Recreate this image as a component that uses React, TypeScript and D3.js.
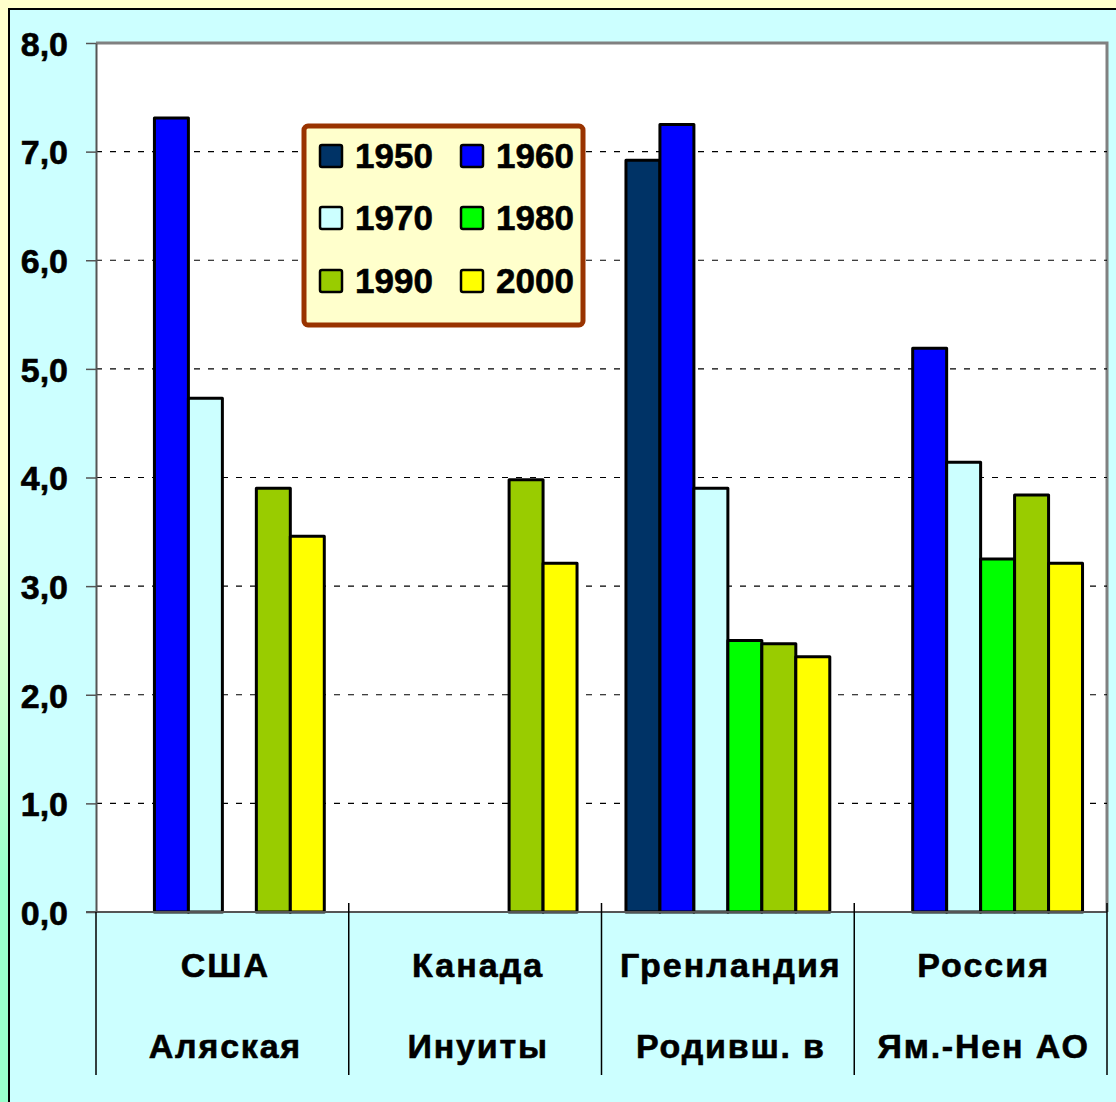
import * as d3 from "d3";
import React, { useRef, useEffect } from "react";

const regionTop = ["США", "Канада", "Гренландия", "Россия"];
const regionBottom = ["Аляская", "Инуиты", "Родивш. в", "Ям.-Нен АО"];
const years = ["1950", "1960", "1970", "1980", "1990", "2000"];
const yearColors = ["#003366", "#0000FF", "#CCFFFF", "#00FF00", "#99CC00", "#FFFF00"];

// values per year, one per region (null = no bar)
const v1950 = [null, null, 6.92, null];
const v1960 = [7.31, null, 7.25, 5.19];
const v1970 = [4.73, null, 3.9, 4.14];
const v1980 = [null, null, 2.5, 3.25];
const v1990 = [3.9, 3.98, 2.47, 3.84];
const v2000 = [3.46, 3.21, 2.35, 3.21];
const yTicks = [0, 1, 2, 3, 4, 5, 6, 7, 8];

const W = 1116;
const H = 1102;
const FONT = "'Liberation Sans', Arial, sans-serif";

function App() {
    const ref = useRef(null);

    useEffect(() => {
        document.body.style.margin = "0";
        draw();
    }, []);

    const draw = () => {
        const svg = d3.select(ref.current).attr("width", W).attr("height", H);
        svg.selectAll("*").remove();

        const series = [v1950, v1960, v1970, v1980, v1990, v2000];
        const left = 96, right = 1107, top = 43, bottom = 912;

        const defs = svg.append("defs");
        const grad = defs.append("linearGradient").attr("id", "bg").attr("x1", 0).attr("y1", 0).attr("x2", 0).attr("y2", 1);
        grad.append("stop").attr("offset", "0%").attr("stop-color", "#FFFFCC");
        grad.append("stop").attr("offset", "45%").attr("stop-color", "#FFFFCC");
        grad.append("stop").attr("offset", "80%").attr("stop-color", "#99FFCC");
        grad.append("stop").attr("offset", "100%").attr("stop-color", "#99FFCC");

        svg.append("rect").attr("width", W).attr("height", H).attr("fill", "url(#bg)");
        svg.append("rect")
            .attr("x", 9).attr("y", 9).attr("width", W + 20).attr("height", H + 20)
            .attr("fill", "#CCFFFF").attr("stroke", "#000").attr("stroke-width", 2);

        const x0 = d3.scaleBand().domain(regionTop).range([left, right]);
        const x1 = d3.scaleBand().domain(years).range([0, x0.bandwidth()]).paddingInner(0).paddingOuter(0.72);
        const y = d3.scaleLinear().domain([0, 8]).range([bottom, top]);

        // plot area
        svg.append("rect")
            .attr("x", left).attr("y", top).attr("width", right - left).attr("height", bottom - top)
            .attr("fill", "#fff");
        svg.append("path")
            .attr("d", `M${left},${top}H${right}V${bottom}`)
            .attr("fill", "none").attr("stroke", "#808080").attr("stroke-width", 3);

        // gridlines
        svg.append("g")
            .selectAll("line")
            .data(yTicks.filter((d) => d > 0 && d < 8))
            .join("line")
            .attr("x1", left).attr("x2", right)
            .attr("y1", (d) => y(d)).attr("y2", (d) => y(d))
            .attr("stroke", "#000").attr("stroke-width", 1.2)
            .attr("stroke-dasharray", "6,8");

        // bars
        const g = svg.append("g");
        series.forEach((vals, si) => {
            g.selectAll(null)
                .data(vals.map((v, ci) => ({ v, ci })).filter((d) => d.v != null))
                .join("rect")
                .attr("x", (d) => x0(regionTop[d.ci]) + x1(years[si]))
                .attr("y", (d) => y(d.v))
                .attr("width", x1.bandwidth())
                .attr("height", (d) => y(0) - y(d.v))
                .attr("fill", yearColors[si])
                .attr("stroke", "#000")
                .attr("stroke-width", 3)
                .attr("stroke-linejoin", "round");
        });

        // y axis
        const yAxis = d3.axisLeft(y).tickValues(yTicks).tickSize(10).tickSizeOuter(0)
            .tickFormat((d) => d3.format(".1f")(d).replace(".", ","));
        const ya = svg.append("g").attr("transform", `translate(${left},0)`).call(yAxis);
        ya.select(".domain").attr("stroke", "#555").attr("stroke-width", 2);
        ya.selectAll(".tick line").attr("stroke", "#555").attr("stroke-width", 1.5);
        ya.selectAll(".tick text")
            .attr("x", -28).attr("dy", "0.36em")
            .attr("font-family", FONT).attr("font-weight", "bold").attr("font-size", 34)
            .attr("fill", "#000").attr("stroke", "#000").attr("stroke-width", 0.6);

        // x baseline
        svg.append("line")
            .attr("x1", left - 10).attr("x2", right)
            .attr("y1", bottom).attr("y2", bottom)
            .attr("stroke", "#555").attr("stroke-width", 2);

        // category dividers
        const edges = regionTop.map((c) => x0(c)).concat([right]);
        svg.append("g").selectAll("line").data(edges).join("line")
            .attr("x1", (d) => d).attr("x2", (d) => d)
            .attr("y1", (d, i) => (i === 0 ? bottom : bottom - 9)).attr("y2", 1075)
            .attr("stroke", "#000").attr("stroke-width", 1.5);

        // category labels
        const lab = svg.append("g")
            .attr("font-family", FONT).attr("font-weight", "bold").attr("font-size", 34)
            .attr("text-anchor", "middle").attr("fill", "#000")
            .attr("stroke", "#000").attr("stroke-width", 0.6);
        regionTop.forEach((c, i) => {
            const cx = x0(c) + x0.bandwidth() / 2 + 3;
            lab.append("text").attr("x", cx).attr("y", 977).attr("letter-spacing", 2).text(c);
            lab.append("text").attr("x", cx).attr("y", 1058).attr("letter-spacing", 1.8).text(regionBottom[i]);
        });

        // legend
        const lg = svg.append("g");
        lg.append("rect")
            .attr("x", 304).attr("y", 126).attr("width", 279).attr("height", 199).attr("rx", 4)
            .attr("fill", "#FFFFCC").attr("stroke", "#993300").attr("stroke-width", 5);
        const colX = [320, 461];
        const rowY = [156, 218, 281];
        years.forEach((yr, i) => {
            const cx = colX[i % 2];
            const cy = rowY[Math.floor(i / 2)];
            lg.append("rect")
                .attr("x", cx).attr("y", cy - 11).attr("width", 22).attr("height", 22).attr("rx", 2)
                .attr("fill", yearColors[i]).attr("stroke", "#000").attr("stroke-width", 2.5);
            lg.append("text")
                .attr("x", cx + 35).attr("y", cy + 12)
                .attr("font-family", FONT).attr("font-weight", "bold").attr("font-size", 35)
                .attr("fill", "#000").attr("stroke", "#000").attr("stroke-width", 0.6).text(yr);
        });
    };

    return <svg ref={ref} style={{ display: "block" }}></svg>;
}

export default App;
